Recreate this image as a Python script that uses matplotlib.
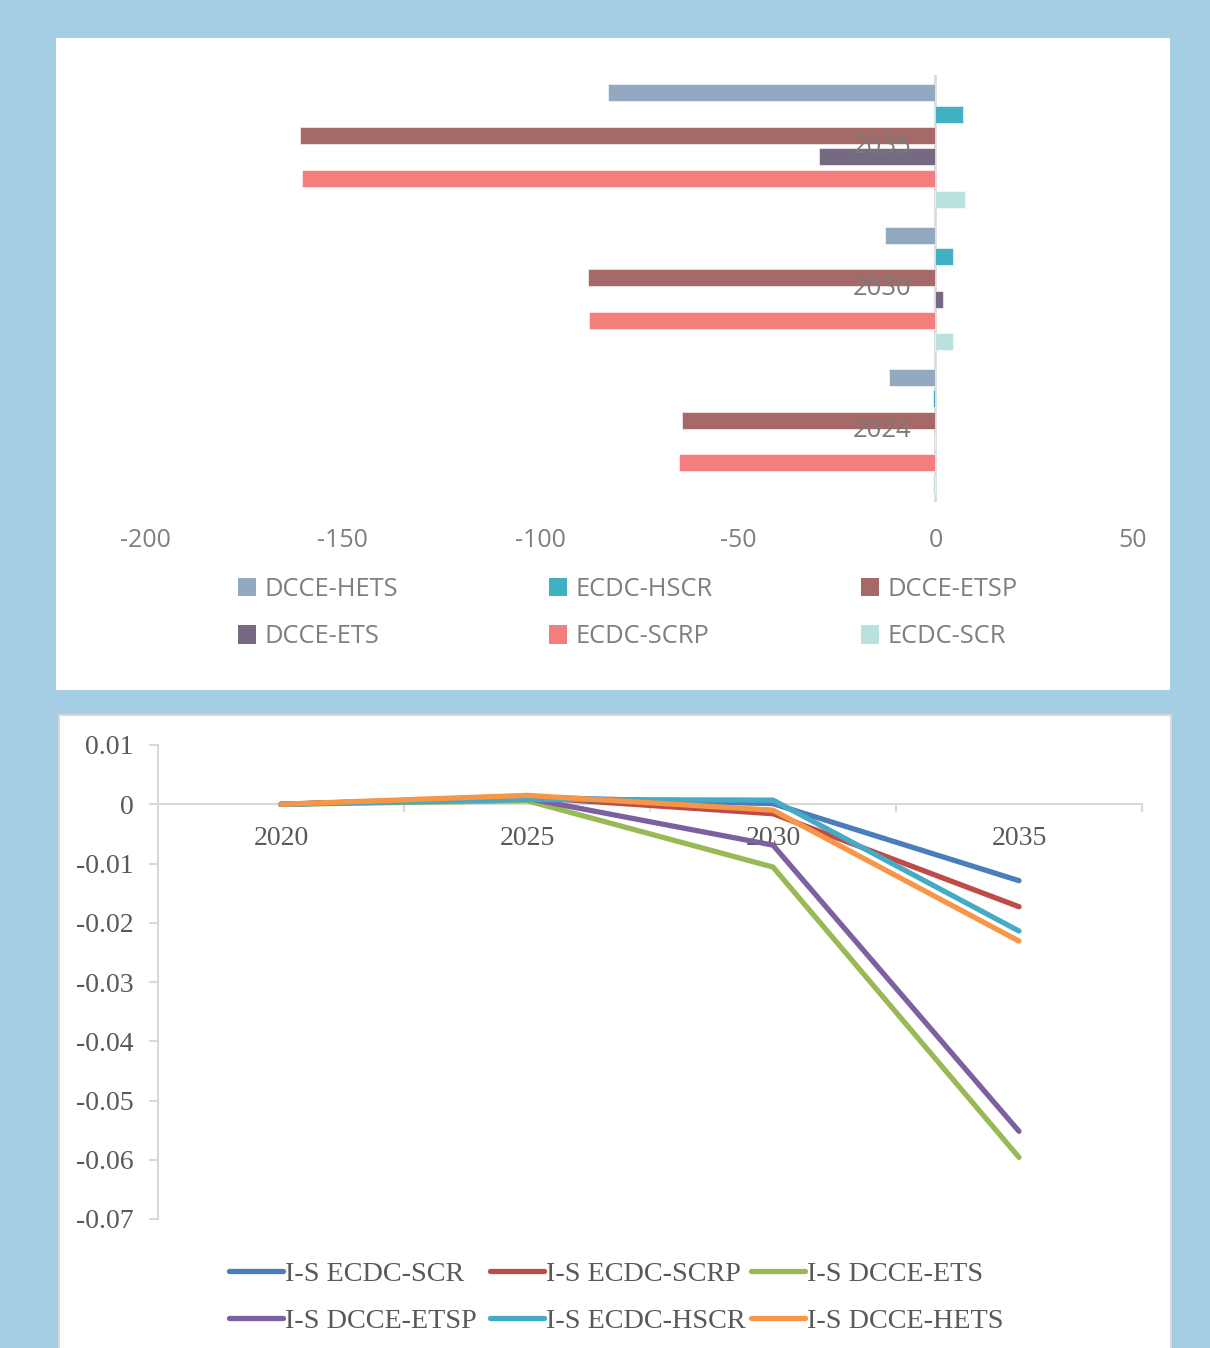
import matplotlib
matplotlib.use("Agg")
import matplotlib.pyplot as plt
import matplotlib.patches as mpatches
from matplotlib.lines import Line2D
import numpy as np

# ---------------- data ----------------
bar_years = ['2024', '2030', '2035']
bar_series = ['DCCE-HETS', 'ECDC-HSCR', 'DCCE-ETSP', 'DCCE-ETS', 'ECDC-SCRP', 'ECDC-SCR']
dcce_hets = [-11.8, -12.7, -82.9]
ecdc_hscr = [-0.7, 4.4, 7.0]
dcce_etsp = [-64.1, -88.0, -160.8]
dcce_ets = [0.0, 1.8, -29.5]
ecdc_scrp = [-64.8, -87.6, -160.3]
ecdc_scr = [-0.7, 4.5, 7.4]
bar_colors = ['#92a9c1', '#40b0c2', '#a56968', '#766a82', '#f47e7d', '#b9e2dd']
bar_ticks = [-200, -150, -100, -50, 0, 50]

line_years = ['2020', '2025', '2030', '2035']
line_series = ['I-S ECDC-SCR', 'I-S ECDC-SCRP', 'I-S DCCE-ETS',
               'I-S DCCE-ETSP', 'I-S ECDC-HSCR', 'I-S DCCE-HETS']
is_ecdc_scr = [0.0, 0.0012, 0.0001, -0.0129]
is_ecdc_scrp = [0.0, 0.0012, -0.0016, -0.0173]
is_dcce_ets = [0.0, 0.0006, -0.0106, -0.0596]
is_dcce_etsp = [0.0, 0.0010, -0.0069, -0.0552]
is_ecdc_hscr = [0.0, 0.0008, 0.0007, -0.0214]
is_dcce_hets = [0.0, 0.0015, -0.0010, -0.0231]
line_colors = ['#4a7ebb', '#be4b48', '#98b954', '#7d60a0', '#46aac5', '#f79646']
line_yticks = [0.01, 0, -0.01, -0.02, -0.03, -0.04, -0.05, -0.06, -0.07]
line_ytick_labels = ['0.01', '0', '-0.01', '-0.02', '-0.03', '-0.04', '-0.05', '-0.06', '-0.07']

# ---------------- figure ----------------
W, H = 1210, 1348
DPI = 100
fig = plt.figure(figsize=(W / DPI, H / DPI), dpi=DPI)
fig.patch.set_facecolor('#a5cde3')


def fx(px):
    return px / W


def fy(py):
    return 1 - py / H


# white panels
fig.patches.append(mpatches.Rectangle((fx(56), fy(690)), fx(1170) - fx(56), fy(38) - fy(690),
                                      transform=fig.transFigure, facecolor='white',
                                      edgecolor='none', zorder=-5))
fig.patches.append(mpatches.Rectangle((fx(59), fy(1360)), fx(1171) - fx(59), fy(715) - fy(1360),
                                      transform=fig.transFigure, facecolor='white',
                                      edgecolor='#d9d9d9', linewidth=1.5, zorder=-5))

# ---------------- top bar chart ----------------
sans = 'Open Sans'
grey = '#7f7f7f'
ax1 = fig.add_axes([fx(145), fy(502), fx(1133) - fx(145), fy(75) - fy(502)])
ax1.set_facecolor('none')
ax1.set_xlim(-200, 50)
ax1.set_ylim(-0.5, 2.5)

all_bars = [dcce_hets, ecdc_hscr, dcce_etsp, dcce_ets, ecdc_scrp, ecdc_scr]
pitch = 21.3 / 142.5
bh = 17.0 / 142.5
ypos = np.arange(len(bar_years))
for k, (vals, name, col) in enumerate(zip(all_bars, bar_series, bar_colors)):
    off = (2.5 - k) * pitch
    ax1.barh(ypos + off, vals, height=bh, color=col, edgecolor='white', linewidth=0.4,
             label=name, zorder=2)

ax1.axvline(0, color='#d9d9d9', lw=2, zorder=1)
for sp in ax1.spines.values():
    sp.set_visible(False)
ax1.set_yticks([])
ax1.set_xticks(bar_ticks)
ax1.set_xticklabels([str(t) for t in bar_ticks], fontfamily=sans, fontsize=18, color=grey)
ax1.tick_params(axis='x', length=0, pad=18.5)
for i, yr in enumerate(bar_years):
    ax1.annotate(yr, xy=(0, i), xytext=(-17, 0), textcoords='offset points',
                 ha='right', va='center', fontfamily=sans, fontsize=18.5, color='#7a7a7a',
                 zorder=6)

# top legend: three columns of two rows
handles1 = [mpatches.Patch(facecolor=c, edgecolor='none') for c in bar_colors]
col_x = [238, 549, 861]
for c in range(3):
    idx = [c, c + 3]
    leg = fig.legend([handles1[i] for i in idx], [bar_series[i] for i in idx],
                     loc='upper left', bbox_to_anchor=(fx(col_x[c]), fy(577)),
                     frameon=False, ncol=1, handlelength=0.72, handleheight=0.72,
                     handletextpad=0.3, labelspacing=0.88, borderpad=0, borderaxespad=0,
                     prop={'family': sans, 'size': 18.4})
    for t in leg.get_texts():
        t.set_color(grey)

# ---------------- bottom line chart ----------------
serif = 'Liberation Serif'
dgrey = '#595959'
ax2 = fig.add_axes([fx(158), fy(1219), fx(1142) - fx(158), fy(745) - fy(1219)])
ax2.set_facecolor('none')
ax2.set_xlim(-0.5, 3.5)
ax2.set_ylim(-0.07, 0.01)

all_lines = [is_ecdc_scr, is_ecdc_scrp, is_dcce_ets, is_dcce_etsp, is_ecdc_hscr, is_dcce_hets]
xs = np.arange(len(line_years))
for vals, name, col in zip(all_lines, line_series, line_colors):
    ax2.plot(xs, vals, color=col, lw=3.8, solid_capstyle='round', solid_joinstyle='round',
             label=name, zorder=3)

for sp in ['top', 'right']:
    ax2.spines[sp].set_visible(False)
ax2.spines['left'].set_color('#d9d9d9')
ax2.spines['left'].set_linewidth(1.5)
ax2.spines['bottom'].set_position(('data', 0))
ax2.spines['bottom'].set_color('#d9d9d9')
ax2.spines['bottom'].set_linewidth(1.5)
ax2.spines['bottom'].set_zorder(1)

ax2.set_yticks(line_yticks)
ax2.set_yticklabels(line_ytick_labels, fontfamily=serif, fontsize=20, color=dgrey)
ax2.tick_params(axis='y', length=6.5, width=1.5, color='#d9d9d9', pad=11)

ax2.set_xticks([0.5, 1.5, 2.5, 3.5])
ax2.set_xticklabels([])
ax2.tick_params(axis='x', which='major', length=5.5, width=1.5, color='#d9d9d9', direction='out')
ax2.set_xticks(xs, minor=True)
ax2.set_xticklabels(line_years, minor=True, fontfamily=serif, fontsize=20, color=dgrey)
ax2.tick_params(axis='x', which='minor', length=0, pad=16)

# bottom legend
handles2 = [Line2D([0], [0], color=c, lw=3.8, solid_capstyle='round') for c in line_colors]
col_x2 = [229, 490, 751]
for c in range(3):
    idx = [c, c + 3]
    leg = fig.legend([handles2[i] for i in idx], [line_series[i] for i in idx],
                     loc='upper left', bbox_to_anchor=(fx(col_x2[c]), fy(1261)),
                     frameon=False, ncol=1, handlelength=1.9, handletextpad=0.08,
                     labelspacing=0.75, borderpad=0, borderaxespad=0,
                     prop={'family': serif, 'size': 20.3})
    for t in leg.get_texts():
        t.set_color(dgrey)

fig.savefig('out.png', dpi=DPI, facecolor=fig.get_facecolor())
